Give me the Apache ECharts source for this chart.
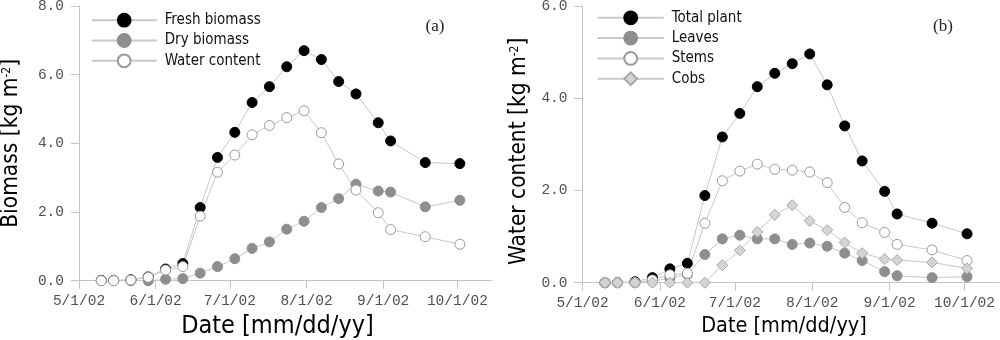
<!DOCTYPE html>
<html>
<head>
<meta charset="utf-8">
<script src="https://cdn.jsdelivr.net/npm/echarts@6/dist/echarts.min.js"></script>
<style>
html,body{margin:0;padding:0;background:#fff;}
#chart{width:1000px;height:340px;}
</style>
</head>
<body>
<div id="chart"></div>
<script>
// Sampling dates
const sampleDates = ['2002-05-10','2002-05-15','2002-05-22','2002-05-29','2002-06-05','2002-06-12','2002-06-19','2002-06-26','2002-07-03','2002-07-10','2002-07-17','2002-07-24','2002-07-31','2002-08-07','2002-08-14','2002-08-21','2002-08-30','2002-09-04','2002-09-18','2002-10-02'];
// Panel (a)
const freshBiomass = [0.01,0.01,0.03,0.11,0.34,0.50,2.13,3.59,4.32,5.19,5.65,6.23,6.70,6.44,5.80,5.44,4.60,4.07,3.44,3.41];
const dryBiomass   = [0.00,0.00,0.00,0.00,0.04,0.06,0.22,0.41,0.64,0.94,1.13,1.50,1.73,2.13,2.39,2.81,2.61,2.58,2.15,2.34];
const waterContent = [0.00,0.00,0.02,0.10,0.31,0.41,1.88,3.16,3.66,4.25,4.52,4.75,4.95,4.31,3.40,2.64,1.98,1.49,1.28,1.06];
// Panel (b)
const totalPlant = [0.00,0.00,0.02,0.11,0.30,0.42,1.89,3.16,3.67,4.25,4.54,4.75,4.96,4.29,3.40,2.64,1.98,1.49,1.29,1.06];
const leaves     = [0.00,0.00,0.00,0.03,0.10,0.18,0.61,0.95,1.03,0.95,0.95,0.83,0.86,0.79,0.64,0.48,0.24,0.15,0.11,0.13];
const stems      = [0.00,0.00,0.00,0.06,0.17,0.20,1.29,2.21,2.42,2.57,2.46,2.44,2.40,2.17,1.63,1.30,1.09,0.83,0.71,0.48];
const cobs       = [0.00,0.00,0.00,0.00,0.00,0.00,0.00,0.38,0.70,1.10,1.47,1.68,1.34,1.14,0.87,0.64,0.51,0.49,0.44,0.31];
// Axis ticks
const tickDates  = ['2002-05-01','2002-06-01','2002-07-01','2002-08-01','2002-09-01','2002-10-01'];
const tickLabels = ['5/1/02','6/1/02','7/1/02','8/1/02','9/1/02','10/1/02'];
const axisEndDate = '2002-10-15';

const origin = Date.UTC(2002,4,1);
function dayOf(s){const p=s.split('-');return Math.round((Date.UTC(+p[0],+p[1]-1,+p[2])-origin)/86400000);}
const sampleDays = sampleDates.map(dayOf);
const tickDays = tickDates.map(dayOf);
const maxDay = dayOf(axisEndDate);
function pts(arr){return sampleDays.map((d,i)=>[d,arr[i]]);}

const axisGray = '#c4c4c4';
const lineGray = '#c8c8c8';
const condensed = '"DejaVu Sans Condensed","DejaVu Sans",sans-serif';
const mono = '"Liberation Mono","DejaVu Sans Mono",monospace';

function xAxisCfg(idx, nameSize, gap, pad){
  return {
    gridIndex: idx, type:'value', min:0, max:maxDay,
    axisLine:{show:true,lineStyle:{color:axisGray,width:1}},
    axisTick:{show:true,length:8,lineStyle:{color:axisGray},customValues:tickDays},
    axisLabel:{customValues:tickDays,formatter:v=>tickLabels[tickDays.indexOf(v)],fontFamily:mono,fontSize:14.5,color:'#505050',margin:13},
    splitLine:{show:false},
    name:'Date [mm/dd/yy]', nameLocation:'middle', nameGap:gap,
    nameTextStyle:{fontFamily:condensed,fontSize:nameSize,color:'#000',padding:[0,pad,0,0]}
  };
}
function yAxisCfg(idx, max, name, nameSize, gap, pad){
  return {
    gridIndex: idx, type:'value', min:0, max:max, interval:2,
    axisLine:{show:true,lineStyle:{color:axisGray,width:1}},
    axisTick:{show:true,length:8,lineStyle:{color:axisGray}},
    axisLabel:{formatter:v=>v.toFixed(1),fontFamily:mono,fontSize:14.5,color:'#505050',margin:15},
    splitLine:{show:false},
    name:name, nameLocation:'middle', nameGap:gap, nameRotate:90,
    nameTextStyle:{fontFamily:condensed,fontSize:nameSize,color:'#000',padding:[0,pad,0,0],
      rich:{sup:{fontFamily:condensed,fontSize:Math.round(nameSize*0.55),color:'#000',padding:[0,0,9,0]}}}
  };
}
function series(name, data, xi, symbol, fill, border){
  return {
    name:name, type:'line', xAxisIndex:xi, yAxisIndex:xi, data:pts(data),
    symbol:symbol, symbolSize: symbol==='diamond'?11:10, showSymbol:true,
    lineStyle:{color:lineGray,width:1},
    itemStyle:{color:fill,borderColor:border,borderWidth:1},
    emphasis:{disabled:true}, silent:true, z: 2
  };
}

const chart = echarts.init(document.getElementById('chart'), null, {renderer:'canvas'});
chart.setOption({
  animation:false,
  backgroundColor:'#fff',
  grid:[
    {left:79, right:508, top:6, bottom:59.3, containLabel:false, outerBoundsMode:'none'},
    {left:582.5, right:0.5, top:6, bottom:57.3, containLabel:false, outerBoundsMode:'none'}
  ],
  xAxis:[xAxisCfg(0,25,32,16), xAxisCfg(1,21.5,32.3,14)],
  yAxis:[
    yAxisCfg(0,8,'Biomass [kg m{sup|-2}]',22.5,56,0),
    yAxisCfg(1,6,'Water content [kg m{sup|-2}]',22.5,52,14)
  ],
  legend:[
    {data:['Fresh biomass','Dry biomass','Water content'],orient:'vertical',left:90.7,top:12.7,padding:0,
     itemWidth:65,itemHeight:16,itemGap:5.3,selectedMode:false,
     textStyle:{fontFamily:condensed,fontSize:15,color:'#111',padding:[0,0,0,3]}},
    {data:['Total plant','Leaves','Stems','Cobs'],orient:'vertical',left:596.7,top:10.3,padding:0,
     itemWidth:66,itemHeight:16,itemGap:5.3,selectedMode:false,
     textStyle:{fontFamily:condensed,fontSize:15,color:'#111',padding:[0,0,0,3]}}
  ],
  graphic:[
    {type:'text',x:435,y:27,style:{text:'(a)',font:'17px "Liberation Serif", serif',fill:'#222',align:'center',verticalAlign:'middle'}},
    {type:'text',x:943,y:27,style:{text:'(b)',font:'17px "Liberation Serif", serif',fill:'#222',align:'center',verticalAlign:'middle'}}
  ],
  series:[
    series('Fresh biomass',freshBiomass,0,'circle','#000000','#000000'),
    series('Dry biomass',dryBiomass,0,'circle','#8e8e8e','#8e8e8e'),
    series('Water content',waterContent,0,'circle','#ffffff','#9a9a9a'),
    series('Total plant',totalPlant,1,'circle','#000000','#000000'),
    series('Leaves',leaves,1,'circle','#8e8e8e','#8e8e8e'),
    series('Stems',stems,1,'circle','#ffffff','#9a9a9a'),
    series('Cobs',cobs,1,'diamond','#d4d4d4','#a8a8a8')
  ]
});
</script>
</body>
</html>
